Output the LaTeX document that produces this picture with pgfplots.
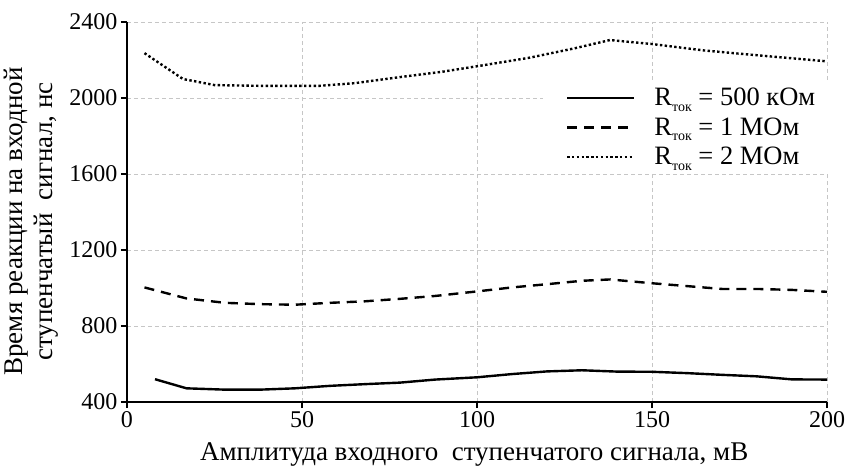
\documentclass[border=0pt]{standalone}
\usepackage{pgfplots}
\pgfplotsset{compat=1.18}
\usepackage{fontspec}
\setmainfont{Liberation Serif}

\newcommand{\Rtok}{R\raisebox{-0.45ex}{\fontsize{14}{14}\selectfont ток}}

\begin{document}
\begin{tikzpicture}
% page frame around the 700pt x 380pt plot area
\path[use as bounding box] (-127pt,-67pt) rectangle (719pt,402pt);
\begin{axis}[
  at={(0pt,0pt)}, anchor=south west,
  scale only axis,
  width=700pt, height=380pt,
  xmin=0, xmax=200, ymin=400, ymax=2400,
  xtick={0,50,100,150,200},
  ytick={400,800,1200,1600,2000,2400},
  axis x line*=bottom, axis y line*=left,
  axis line style={line width=1.8pt, -},
  tick style={line width=1.5pt, black},
  tick align=outside,
  major tick length=6pt,
  grid=major,
  major grid style={gray!45, line width=0.8pt, dash pattern=on 4pt off 3pt},
  /pgf/number format/assume math mode=true,
  /pgf/number format/1000 sep={},
  tick label style={font=\fontsize{24}{24}\selectfont},
  xlabel={Амплитуда входного\ \ ступенчатого сигнала, мВ},
  ylabel={\shortstack{Время реакции на входной\\[2pt]ступенчатый\ \ сигнал, нс}},
  every axis x label/.style={at={(axis description cs:0.496,0)}, anchor=base,
    yshift=-58pt, font=\fontsize{27}{27}\selectfont},
  every axis y label/.style={at={(axis description cs:-0.137,0.475)}, anchor=center,
    rotate=90, font=\fontsize{27}{27}\selectfont},
  legend style={
    at={(0.594,0.842)}, anchor=north west,
    draw=none, fill=white,
    font=\fontsize{26.5}{26.5}\selectfont,
    inner xsep=23pt, inner ysep=4pt,
    row sep=6.5pt, column sep=17pt,
    legend cell align=left,
  },
  legend image code/.code={\draw[#1] (0pt,0pt) -- (67pt,0pt);},
]
\addplot[black, line width=2.4pt] coordinates {
  (8,520) (17,472) (28,465) (38,465) (48,472) (58,485) (68,494) (78,502)
  (88,518) (100,530) (110,547) (120,561) (130,567) (140,560) (150,559)
  (160,552) (170,543) (180,535) (190,519) (200,518)
};
\addlegendentry{\Rtok{} = 500 кОм}
\addplot[black, line width=2.4pt, dash pattern=on 10pt off 7pt] coordinates {
  (5,1003) (17,945) (28,922) (38,915) (48,912) (58,922) (68,930) (78,943)
  (88,958) (100,982) (110,1003) (120,1020) (130,1038) (138,1045) (150,1025)
  (160,1010) (170,995) (180,995) (190,990) (200,980)
};
\addlegendentry{\Rtok{} = 1 МОм}
\addplot[black, line width=2.4pt, dash pattern=on 2.4pt off 2.4pt] coordinates {
  (5,2236) (16,2100) (25,2068) (38,2064) (55,2064) (65,2078) (78,2110)
  (90,2138) (100,2167) (115,2212) (128,2262) (138,2305) (150,2284)
  (165,2250) (180,2225) (200,2193)
};
\addlegendentry{\Rtok{} = 2 МОм}
\end{axis}
\end{tikzpicture}
\end{document}
